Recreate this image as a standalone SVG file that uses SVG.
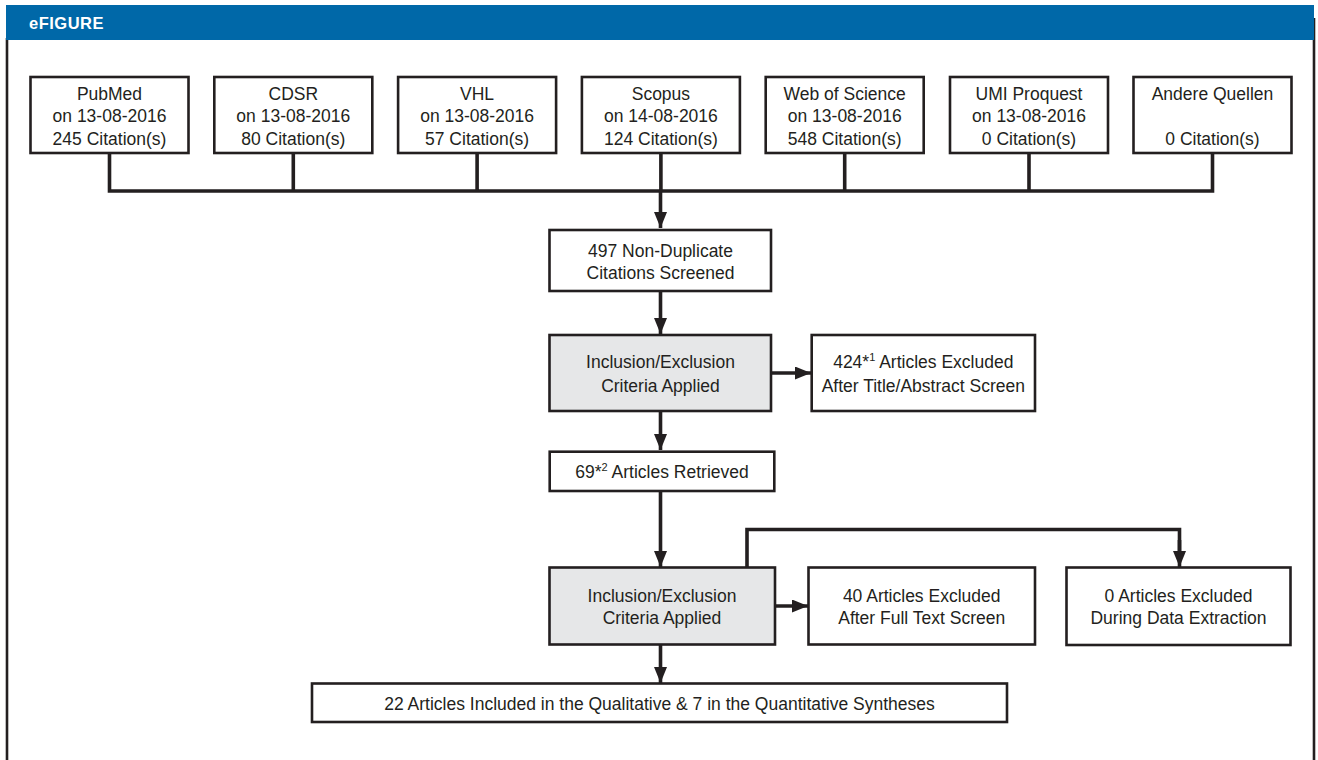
<svg xmlns="http://www.w3.org/2000/svg" width="1318" height="760" viewBox="0 0 1318 760">
<defs>
<marker id="ah" markerUnits="userSpaceOnUse" markerWidth="16" markerHeight="13" refX="16" refY="6.5" orient="auto">
<path d="M0,0 L16,6.5 L0,13 z" fill="#231f20"/>
</marker>
<style>
.box{fill:#ffffff;stroke:#231f20;stroke-width:2.6}
.gray{fill:#e6e7e8;stroke:#231f20;stroke-width:2.6}
.t{font-family:"Liberation Sans",Arial,sans-serif;font-size:17.5px;fill:#231f20;text-anchor:middle}
.sup{font-size:11px}
.c{fill:none;stroke:#231f20;stroke-width:3.6;stroke-linejoin:miter}
.hdr{font-family:"Liberation Sans",Arial,sans-serif;font-size:16.5px;font-weight:bold;fill:#ffffff;letter-spacing:0.5px}
</style>
</defs>
<rect width="1318" height="760" fill="#ffffff"/>
<g id="frame">
<line x1="7" y1="38" x2="7" y2="760" stroke="#231f20" stroke-width="2.6"/>
<line x1="1314" y1="18" x2="1314" y2="760" stroke="#231f20" stroke-width="2.6"/>
<rect x="6" y="5" width="1308" height="35" fill="#0068a8"/>
<text x="29" y="29" class="hdr">eFIGURE</text>
</g>
<g id="connectors">
<path class="c" d="M109.5,153 V191 M293.3,153 V191 M477.1,153 V191 M660.9,153 V191 M844.7,153 V191 M1029,153 V191 M1212.5,153 V191 M107.7,191 H1214.3"/>
<line class="c" x1="660.5" y1="191" x2="660.5" y2="228" marker-end="url(#ah)"/>
<line class="c" x1="660.5" y1="291" x2="660.5" y2="334" marker-end="url(#ah)"/>
<line class="c" x1="771" y1="373" x2="811" y2="373" marker-end="url(#ah)"/>
<line class="c" x1="660.5" y1="411" x2="660.5" y2="450" marker-end="url(#ah)"/>
<line class="c" x1="660.5" y1="491" x2="660.5" y2="567" marker-end="url(#ah)"/>
<line class="c" x1="775" y1="606" x2="808" y2="606" marker-end="url(#ah)"/>
<path class="c" d="M747,567 V529.5 H1179.5 V552"/>
<line class="c" x1="1179.5" y1="540" x2="1179.5" y2="567" marker-end="url(#ah)"/>
<line class="c" x1="660.5" y1="645" x2="660.5" y2="683" marker-end="url(#ah)"/>
</g>
<g id="pubmed">
<rect class="box" x="30.5" y="77" width="158" height="76"/>
<text class="t" x="109.5" y="99.5">PubMed</text>
<text class="t" x="109.5" y="122">on 13-08-2016</text>
<text class="t" x="109.5" y="144.5">245 Citation(s)</text>
</g>
<g id="cdsr">
<rect class="box" x="214.3" y="77" width="158" height="76"/>
<text class="t" x="293.3" y="99.5">CDSR</text>
<text class="t" x="293.3" y="122">on 13-08-2016</text>
<text class="t" x="293.3" y="144.5">80 Citation(s)</text>
</g>
<g id="vhl">
<rect class="box" x="398.1" y="77" width="158" height="76"/>
<text class="t" x="477.1" y="99.5">VHL</text>
<text class="t" x="477.1" y="122">on 13-08-2016</text>
<text class="t" x="477.1" y="144.5">57 Citation(s)</text>
</g>
<g id="scopus">
<rect class="box" x="581.9" y="77" width="158" height="76"/>
<text class="t" x="660.9" y="99.5">Scopus</text>
<text class="t" x="660.9" y="122">on 14-08-2016</text>
<text class="t" x="660.9" y="144.5">124 Citation(s)</text>
</g>
<g id="wos">
<rect class="box" x="765.7" y="77" width="158" height="76"/>
<text class="t" x="844.7" y="99.5">Web of Science</text>
<text class="t" x="844.7" y="122">on 13-08-2016</text>
<text class="t" x="844.7" y="144.5">548 Citation(s)</text>
</g>
<g id="umi">
<rect class="box" x="950" y="77" width="158" height="76"/>
<text class="t" x="1029" y="99.5">UMI Proquest</text>
<text class="t" x="1029" y="122">on 13-08-2016</text>
<text class="t" x="1029" y="144.5">0 Citation(s)</text>
</g>
<g id="andere">
<rect class="box" x="1133.5" y="77" width="158" height="76"/>
<text class="t" x="1212.5" y="99.5">Andere Quellen</text>
<text class="t" x="1212.5" y="144.5">0 Citation(s)</text>
</g>
<g id="nondup">
<rect class="box" x="549.5" y="230" width="221.5" height="61"/>
<text class="t" x="660.5" y="256.5">497 Non-Duplicate</text>
<text class="t" x="660.5" y="279">Citations Screened</text>
</g>
<g id="criteria1">
<rect class="gray" x="549.5" y="335" width="221.5" height="76"/>
<text class="t" x="660.5" y="368">Inclusion/Exclusion</text>
<text class="t" x="660.5" y="391.5">Criteria Applied</text>
</g>
<g id="excl1">
<rect class="box" x="811.7" y="335" width="223.3" height="76"/>
<text class="t" x="923.3" y="368">424*<tspan class="sup" dy="-7">1</tspan><tspan dy="7"> Articles Excluded</tspan></text>
<text class="t" x="923.3" y="391.5">After Title/Abstract Screen</text>
</g>
<g id="retrieved">
<rect class="box" x="549.7" y="451.7" width="224.6" height="39.3"/>
<text class="t" x="662" y="477.5">69*<tspan class="sup" dy="-7">2</tspan><tspan dy="7"> Articles Retrieved</tspan></text>
</g>
<g id="criteria2">
<rect class="gray" x="549.5" y="567.5" width="225.5" height="77"/>
<text class="t" x="662" y="601.5">Inclusion/Exclusion</text>
<text class="t" x="662" y="624">Criteria Applied</text>
</g>
<g id="excl2">
<rect class="box" x="808.5" y="567.5" width="226.5" height="77"/>
<text class="t" x="921.7" y="601.5">40 Articles Excluded</text>
<text class="t" x="921.7" y="624">After Full Text Screen</text>
</g>
<g id="excl3">
<rect class="box" x="1066.5" y="567.5" width="224" height="77.5"/>
<text class="t" x="1178.5" y="601.5">0 Articles Excluded</text>
<text class="t" x="1178.5" y="624">During Data Extraction</text>
</g>
<g id="included">
<rect class="box" x="312" y="683.5" width="695" height="38.5"/>
<text class="t" x="659.5" y="710">22 Articles Included in the Qualitative &amp; 7 in the Quantitative Syntheses</text>
</g>
</svg>
